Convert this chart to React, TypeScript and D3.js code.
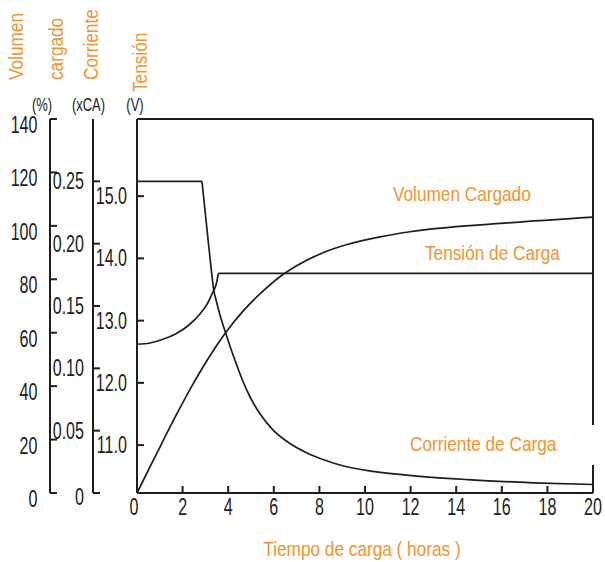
import React from "react";
import * as d3 from "d3";

// ---- data ----
const timeTicks = [0, 2, 4, 6, 8, 10, 12, 14, 16, 18, 20];
const volumeTicks = [0, 20, 40, 60, 80, 100, 120, 140];
const currentTicks = [0, 0.05, 0.1, 0.15, 0.2, 0.25];
const currentTickLabels = ["0", "0.05", "0.10", "0.15", "0.20", "0.25"];
const voltageTicks = [11, 12, 13, 14, 15];
const voltageTickLabels = ["11.0", "12.0", "13.0", "14.0", "15.0"];

// Volumen cargado (%)
const volumeTime = [0, 0.79, 1.58, 2.32, 3.07, 3.86, 4.65, 5.39, 6.4, 7.02, 8.03, 9.21, 10.66, 11.97, 15.92, 20];
const volumeValue = [0, 13.5, 26.9, 38.7, 49.6, 59.7, 68.1, 74.5, 81.8, 85.2, 89.5, 93.0, 95.9, 97.8, 100.9, 103.3];

// Tensión de carga (V)
const voltageTime = [0, 0.57, 1.14, 1.71, 2.28, 2.72, 3.07, 3.33, 3.47, 3.57, 20];
const voltageValue = [12.62, 12.64, 12.7, 12.79, 12.93, 13.09, 13.26, 13.46, 13.58, 13.76, 13.76];

// Corriente de carga (xCA)
const currentTime = [0, 2.85, 3.09, 3.25, 3.36, 3.49, 3.64, 3.86, 4.12, 4.39, 4.65, 4.96, 5.4, 5.97, 6.71, 7.46, 8.16, 8.9, 10.35, 12.41, 14.47, 17.37, 20];
const currentValue = [0.25, 0.25, 0.2078, 0.1805, 0.1636, 0.1532, 0.1428, 0.1299, 0.1155, 0.1019, 0.0894, 0.077, 0.0633, 0.0505, 0.0397, 0.0321, 0.0269, 0.0225, 0.0173, 0.0134, 0.0108, 0.0082, 0.0068];

const ORANGE = "#F29431";
const INK = "#1e1e1e";
const FONT = "'Liberation Sans', Arial, Helvetica, sans-serif";

function Txt(props: {
  x: number; y: number; size: number; sx: number; anchor?: string;
  fill?: string; rotate?: number; children: React.ReactNode;
}) {
  const { x, y, size, sx, anchor = "start", fill = INK, rotate = 0, children } = props;
  return (
    <text
      transform={`translate(${x},${y}) rotate(${rotate}) scale(${sx},1)`}
      fontSize={size}
      fontFamily={FONT}
      textAnchor={anchor as any}
      fill={fill}
    >
      {children}
    </text>
  );
}

export default function App() {
  const W = 605, H = 562;
  const left = 137, right = 593, top = 119, bottom = 493;
  const volAxisX = 50, curAxisX = 93;

  const x = d3.scaleLinear().domain([0, 20]).range([left, right]);
  const yVol = d3.scaleLinear().domain([0, 140]).range([bottom, top]);
  const yCur = d3.scaleLinear().domain([0, 0.3]).range([bottom, top]);
  const yV = d3.scaleLinear().domain([10.23, 16.24]).range([bottom, top]);

  const mono = d3.line<[number, number]>().curve(d3.curveMonotoneX);
  const lin = d3.line<[number, number]>();

  const volPts: [number, number][] = volumeTime.map((t, i) => [x(t), yVol(volumeValue[i])]);
  const vPts: [number, number][] = voltageTime.map((t, i) => [x(t), yV(voltageValue[i])]);
  const cPts: [number, number][] = currentTime.map((t, i) => [x(t), yCur(currentValue[i])]);

  const vCurve = mono(vPts.slice(0, vPts.length - 1)) || "";
  const vFlat = lin(vPts.slice(vPts.length - 2)) || "";
  const cFlat = lin(cPts.slice(0, 2)) || "";
  const cCurve = mono(cPts.slice(1)) || "";
  const volCurve = mono(volPts) || "";

  const tickLen = 7;
  const axisW = 2;
  const curveW = 1.7;
  const numSize = 23, numSx = 0.7;
  const oSize = 21, oSx = 0.82;
  const unitSize = 18, unitSx = 0.72;

  return (
    <svg width={W} height={H} style={{ position: "absolute", left: 0, top: 0, background: "#fff" }}>
      <rect x={0} y={0} width={W} height={H} fill="#fff" />

      {/* vertical axis titles */}
      <Txt x={23} y={80} size={oSize} sx={oSx} rotate={-90} fill={ORANGE}>Volumen</Txt>
      <Txt x={63} y={80} size={oSize} sx={oSx} rotate={-90} fill={ORANGE}>cargado</Txt>
      <Txt x={98} y={80} size={oSize} sx={oSx} rotate={-90} fill={ORANGE}>Corriente</Txt>
      <Txt x={147} y={92} size={oSize} sx={oSx} rotate={-90} fill={ORANGE}>Tensión</Txt>

      {/* units */}
      <Txt x={42} y={111} size={unitSize} sx={unitSx} anchor="middle">(%)</Txt>
      <Txt x={88.5} y={111} size={unitSize} sx={unitSx} anchor="middle">(xCA)</Txt>
      <Txt x={135} y={111} size={unitSize} sx={unitSx} anchor="middle">(V)</Txt>

      {/* volume axis */}
      <line x1={volAxisX} x2={volAxisX} y1={top} y2={bottom} stroke={INK} strokeWidth={axisW} />
      {volumeTicks.map((v) => (
        <g key={"vt" + v}>
          <line x1={volAxisX} x2={volAxisX + tickLen} y1={yVol(v)} y2={yVol(v)} stroke={INK} strokeWidth={axisW} />
          <Txt x={37.5} y={yVol(v) + 14} size={numSize} sx={numSx} anchor="end">{String(v)}</Txt>
        </g>
      ))}

      {/* current axis */}
      <line x1={curAxisX} x2={curAxisX} y1={top} y2={bottom} stroke={INK} strokeWidth={axisW} />
      {currentTicks.map((c, i) => (
        <g key={"ct" + i}>
          <line x1={curAxisX} x2={curAxisX + tickLen} y1={yCur(c)} y2={yCur(c)} stroke={INK} strokeWidth={axisW} />
          <Txt x={84} y={yCur(c) + 8 + (i === 0 ? 4 : 0)} size={numSize} sx={numSx} anchor="end">{currentTickLabels[i]}</Txt>
        </g>
      ))}

      {/* voltage axis ticks */}
      {voltageTicks.map((v, i) => (
        <g key={"vv" + i}>
          <line x1={left} x2={left + tickLen} y1={yV(v)} y2={yV(v)} stroke={INK} strokeWidth={axisW} />
          <Txt x={127} y={yV(v) + 8} size={numSize} sx={numSx} anchor="end">{voltageTickLabels[i]}</Txt>
        </g>
      ))}

      {/* frame */}
      <line x1={left} x2={left} y1={top} y2={bottom} stroke={INK} strokeWidth={axisW} />
      <line x1={left} x2={right} y1={top} y2={top} stroke={INK} strokeWidth={axisW} />
      <line x1={left} x2={right} y1={bottom} y2={bottom} stroke={INK} strokeWidth={axisW} />
      <line x1={right} x2={right} y1={top} y2={425} stroke={INK} strokeWidth={axisW} />
      <line x1={right} x2={right} y1={465} y2={bottom} stroke={INK} strokeWidth={axisW} />

      {/* x ticks */}
      {timeTicks.map((t) => (
        <g key={"xt" + t}>
          <line x1={x(t)} x2={x(t)} y1={bottom} y2={bottom - tickLen} stroke={INK} strokeWidth={axisW} />
          <Txt x={x(t) - (t === 0 ? 3 : 0)} y={515} size={numSize} sx={numSx} anchor="middle">{String(t)}</Txt>
        </g>
      ))}

      {/* curves */}
      <path d={volCurve} fill="none" stroke={INK} strokeWidth={curveW} />
      <path d={vCurve} fill="none" stroke={INK} strokeWidth={curveW} />
      <path d={vFlat} fill="none" stroke={INK} strokeWidth={curveW} />
      <path d={cFlat} fill="none" stroke={INK} strokeWidth={curveW} />
      <path d={cCurve} fill="none" stroke={INK} strokeWidth={curveW} />

      {/* series labels */}
      <Txt x={393} y={201} size={oSize} sx={oSx} fill={ORANGE}>Volumen Cargado</Txt>
      <Txt x={425} y={260} size={oSize} sx={oSx} fill={ORANGE}>Tensión de Carga</Txt>
      <Txt x={410} y={451} size={oSize} sx={oSx} fill={ORANGE}>Corriente de Carga</Txt>
      <Txt x={362} y={556} size={oSize} sx={oSx} anchor="middle" fill={ORANGE}>Tiempo de carga ( horas )</Txt>
    </svg>
  );
}
